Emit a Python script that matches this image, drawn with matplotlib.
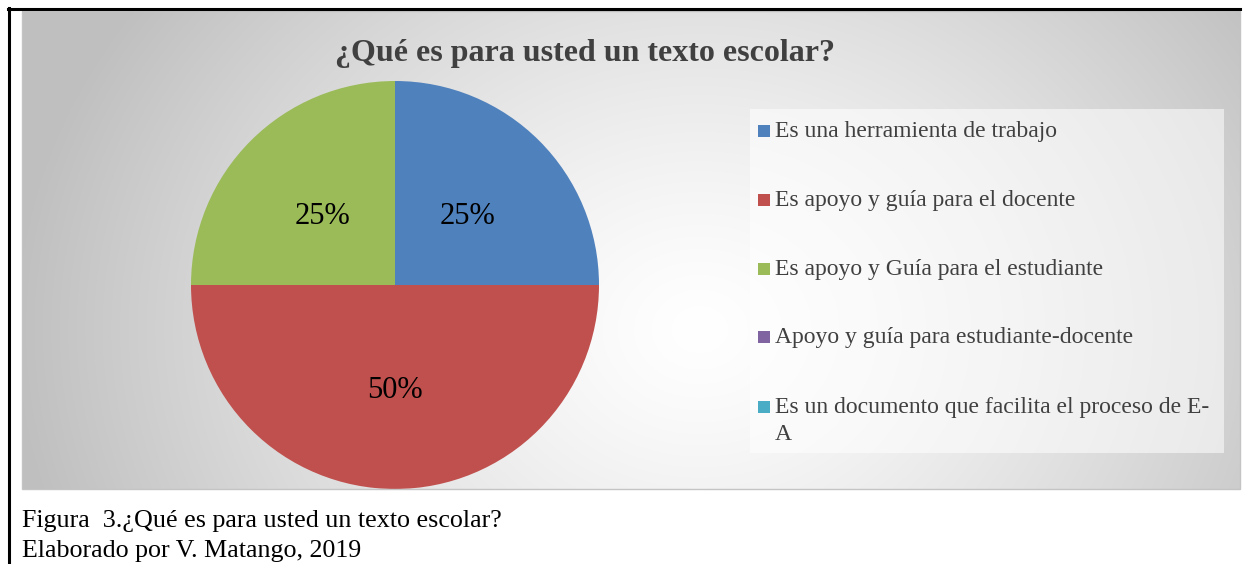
import numpy as np
import matplotlib.pyplot as plt
from matplotlib.patches import Rectangle
from matplotlib.lines import Line2D

# data
categories = ['Es una herramienta de trabajo',
              'Es apoyo y guía para el docente',
              'Es apoyo y Guía para el estudiante',
              'Apoyo y guía para estudiante-docente',
              'Es un documento que facilita el proceso de E-\nA']
values = [25, 50, 25, 0, 0]
colors = ['#4F81BD', '#C0504D', '#9BBB59', '#8064A2', '#4BACC6']
title = '¿Qué es para usted un texto escolar?'
caption = ['Figura  3.¿Qué es para usted un texto escolar?',
           'Elaborado por V. Matango, 2019']

W, H = 1245, 564
plt.rcParams['font.family'] = ['Liberation Serif', 'DejaVu Serif']
fig = plt.figure(figsize=(W / 100, H / 100), dpi=100, facecolor='white')


def box(x0, y0, x1, y1):
    # pixel box (top-left origin) -> figure fraction rect
    return [x0 / W, 1 - y1 / H, (x1 - x0) / W, (y1 - y0) / H]


# chart area with radial gradient
cx0, cy0, cx1, cy1 = 22, 11, 1240, 489
bg = fig.add_axes(box(cx0, cy0, cx1, cy1))
xx, yy = np.meshgrid(np.linspace(cx0, cx1, 400), np.linspace(cy0, cy1, 200))
d = np.hypot(xx - 700, (yy - 330) * 1.2)
d = np.clip(d / 690, 0, 1)
shade = 1.0 - 0.25 * d ** 1.3
bg.imshow(np.dstack([shade] * 3), extent=(cx0, cx1, cy1, cy0), aspect='auto',
          interpolation='bilinear')
bg.set_axis_off()
fig.add_artist(Rectangle((cx0 / W, 1 - cy1 / H), (cx1 - cx0) / W, (cy1 - cy0) / H,
                         transform=fig.transFigure, fill=False,
                         edgecolor='#c4c4c4', lw=1))

# outer black frame (top and left)
fig.add_artist(Line2D([8 / W, 1240 / W], [1 - 9 / H, 1 - 9 / H],
                      transform=fig.transFigure, color='black', lw=2.2))
fig.add_artist(Line2D([9 / W, 9 / W], [1 - 8 / H, 0],
                      transform=fig.transFigure, color='black', lw=2.2))

# title
fig.text(585 / W, 1 - 50 / H, title, ha='center', va='center_baseline',
         fontsize=23, fontweight='bold', color='#404040')

# pie
ax = fig.add_axes(box(191, 81, 599, 489))
wedges, texts, autotexts = ax.pie(
    values, colors=colors, startangle=90, counterclock=False,
    autopct=lambda p: f'{p:.0f}%' if p > 0 else '', pctdistance=0.5,
    textprops={'fontsize': 22, 'color': 'black'})
for t in autotexts:
    t.set_va('center_baseline')
ax.set_xlim(-1, 1)
ax.set_ylim(-1, 1)
ax.set_aspect('equal')
ax.set_axis_off()

# legend box
fig.add_artist(Rectangle((750 / W, 1 - 453 / H), 474 / W, 344 / H,
                         transform=fig.transFigure, facecolor='white',
                         alpha=0.55, edgecolor='none'))
rows = [131, 200, 269, 337, 407]
for w, lab, ry in zip(wedges, categories, rows):
    fig.add_artist(Rectangle((758 / W, 1 - (ry + 6) / H), 12 / W, 12 / H,
                             transform=fig.transFigure,
                             facecolor=w.get_facecolor(), edgecolor='none'))
    fig.text(775 / W, 1 - (ry - 10) / H, lab, ha='left', va='top',
             fontsize=17, color='#404040', linespacing=1.4)

# caption
fig.text(22 / W, 1 - 521 / H, caption[0], ha='left', va='center',
         fontsize=18.7, color='black')
fig.text(22 / W, 1 - 551 / H, caption[1], ha='left', va='center',
         fontsize=18.7, color='black')

fig.savefig('out.png', dpi=100, facecolor='white')
